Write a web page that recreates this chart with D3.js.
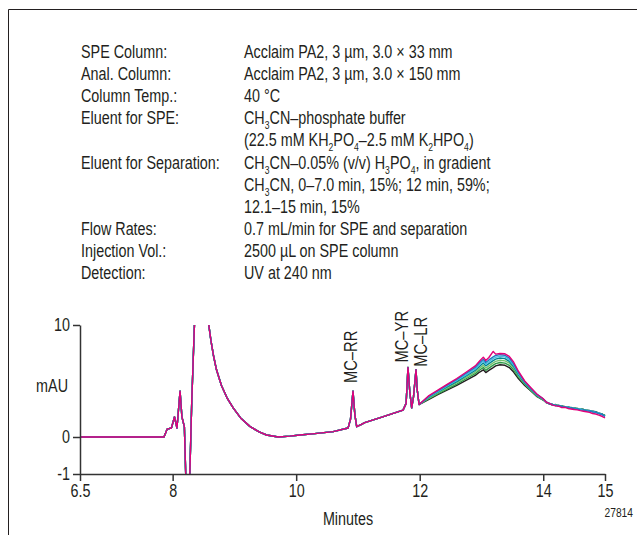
<!DOCTYPE html>
<html>
<head>
<meta charset="utf-8">
<script src="https://cdn.jsdelivr.net/npm/d3@7"></script>
<style>
  html, body { margin: 0; padding: 0; background: #fff; }
  svg { display: block; }
  text { font-family: "Liberation Sans", Arial, sans-serif; fill: #231f20; }
</style>
</head>
<body>
<svg id="chart" width="637" height="535"></svg>
<script>
// ---------------- DATA ----------------
// Conditions block
const condLabels = ["SPE Column:", "Anal. Column:", "Column Temp.:", "Eluent for SPE:", "",
  "Eluent for Separation:", "", "", "Flow Rates:", "Injection Vol.:", "Detection:"];
const condValues = [
  "Acclaim PA2, 3 µm, 3.0 × 33 mm",
  "Acclaim PA2, 3 µm, 3.0 × 150 mm",
  "40 °C",
  "CH{3}CN–phosphate buffer",
  "(22.5 mM KH{2}PO{4}–2.5 mM K{2}HPO{4})",
  "CH{3}CN–0.05% (v/v) H{3}PO{4}, in gradient",
  "CH{3}CN, 0–7.0 min, 15%; 12 min, 59%;",
  "12.1–15 min, 15%",
  "0.7 mL/min for SPE and separation",
  "2500 µL on SPE column",
  "UV at 240 nm"
];

// Axis ticks
const xTicks = [6.5, 8, 10, 12, 14, 15];
const yTicks = [-1, 0, 10];

// Peak labels
const peakNames = ["MC–RR", "MC–YR", "MC–LR"];
const peakTimes = [10.92, 11.81, 11.94];
const peakHeights = [4.1, 6.2, 6.0];

// Common part of all traces (6.5 – 12.0 min), mAU
const earlyT = [6.50, 7.86, 7.91, 7.98, 8.03, 8.07, 8.12, 8.15, 8.19, 8.22, 8.24, 8.27, 8.31, 8.35,
  8.40, 8.45, 8.55, 8.58, 8.62, 8.66, 8.71, 8.79, 8.88, 8.98, 9.10, 9.25, 9.40, 9.52, 9.71, 9.90,
  10.06, 10.30, 10.60, 10.84, 10.88, 10.92, 10.95, 10.98, 11.05, 11.11, 11.40, 11.73, 11.78, 11.81,
  11.84, 11.87, 11.90, 11.94, 11.96];
const earlyV = [0.0, 0.0, 0.7, 0.8, 1.8, 0.8, 4.1, 1.8, 0.9, -1.5, -3.0, -1.5, 3.3, 9.6,
  16, 22, 16, 10.2, 8.6, 7.3, 6.0, 4.6, 3.5, 2.6, 1.7, 0.95, 0.45, 0.18, 0.0, 0.08,
  0.18, 0.3, 0.48, 0.8, 1.6, 4.1, 2.0, 0.92, 1.1, 1.28, 1.8, 2.4, 3.0, 6.2,
  4.0, 2.6, 3.6, 6.0, 4.2];

// Late part (12.0 – 15.0 min), one array per trace
const lateT = [11.99, 12.15, 12.3, 12.45, 12.6, 12.75, 12.9, 12.97, 13.03, 13.07, 13.12, 13.19, 13.23, 13.3,
  13.38, 13.45, 13.52, 13.6, 13.7, 13.8, 13.9, 14.0, 14.05, 14.1, 14.15, 14.2, 14.25, 14.3, 14.35,
  14.4, 14.45, 14.5, 14.55, 14.6, 14.65, 14.7, 14.75, 14.8, 14.85, 14.9, 14.95, 15.0];
const lateBlack = [2.9, 3.35, 3.8, 4.2, 4.6, 5.05, 5.5, 5.8, 6.0, 5.75, 5.95, 6.2, 6.35, 6.45,
  6.4, 6.2, 5.8, 5.2, 4.6, 4.1, 3.6, 3.3, 3.05, 2.95, 2.85, 2.9, 2.75, 2.8, 2.65,
  2.7, 2.6, 2.6, 2.5, 2.5, 2.45, 2.4, 2.35, 2.3, 2.25, 2.15, 2.05, 1.9];
const lateGreen = [2.9, 3.42, 3.88, 4.3, 4.72, 5.2, 5.65, 5.98, 6.2, 5.95, 6.15, 6.42, 6.55, 6.65,
  6.6, 6.4, 6.0, 5.35, 4.7, 4.15, 3.65, 3.3, 3.1, 2.95, 2.9, 2.85, 2.8, 2.75, 2.7,
  2.65, 2.6, 2.6, 2.55, 2.5, 2.45, 2.4, 2.35, 2.3, 2.2, 2.15, 2.05, 1.95];
const lateLightGreen = [2.9, 3.48, 3.95, 4.4, 4.85, 5.33, 5.8, 6.15, 6.4, 6.15, 6.35, 6.62, 6.75, 6.85,
  6.8, 6.6, 6.15, 5.45, 4.75, 4.2, 3.68, 3.32, 3.08, 3.0, 2.88, 2.82, 2.82, 2.72, 2.7,
  2.62, 2.62, 2.55, 2.52, 2.48, 2.42, 2.38, 2.35, 2.28, 2.22, 2.12, 2.02, 1.92];
const lateTeal = [2.9, 3.55, 4.02, 4.5, 4.95, 5.45, 5.95, 6.32, 6.6, 6.35, 6.55, 6.82, 6.95, 7.05,
  7.0, 6.75, 6.3, 5.55, 4.82, 4.25, 3.72, 3.35, 3.12, 2.98, 2.9, 2.8, 2.85, 2.7, 2.72,
  2.6, 2.65, 2.52, 2.55, 2.45, 2.45, 2.35, 2.38, 2.25, 2.25, 2.1, 2.05, 1.88];
const lateCyan = [2.9, 3.6, 4.08, 4.58, 5.05, 5.55, 6.08, 6.48, 6.78, 6.5, 6.72, 7.0, 7.12, 7.2,
  7.15, 6.9, 6.42, 5.65, 4.9, 4.3, 3.75, 3.38, 3.08, 3.02, 2.85, 2.85, 2.78, 2.75, 2.65,
  2.68, 2.55, 2.58, 2.48, 2.5, 2.38, 2.4, 2.3, 2.3, 2.18, 2.15, 2.0, 1.85];
const lateBlue = [2.9, 3.65, 4.14, 4.66, 5.15, 5.68, 6.22, 6.62, 6.95, 6.65, 6.88, 7.15, 7.28, 7.35,
  7.3, 7.05, 6.55, 5.75, 4.95, 4.35, 3.8, 3.4, 3.15, 2.95, 2.92, 2.8, 2.8, 2.72, 2.68,
  2.62, 2.6, 2.52, 2.5, 2.42, 2.4, 2.35, 2.32, 2.25, 2.2, 2.1, 2.02, 1.85];
const lateMagenta = [2.9, 3.7, 4.2, 4.72, 5.22, 5.78, 6.35, 6.78, 7.13, 6.83, 7.1, 7.64, 7.4, 7.45,
  7.43, 7.2, 6.7, 5.85, 5.0, 4.4, 3.82, 3.42, 3.1, 3.0, 2.85, 2.78, 2.75, 2.62, 2.65,
  2.55, 2.5, 2.45, 2.42, 2.35, 2.3, 2.25, 2.2, 2.1, 2.05, 1.95, 1.85, 1.7];

const seriesNames = ["black", "green", "lightgreen", "teal", "cyan", "blue", "magenta"];
const seriesLate = [lateBlack, lateGreen, lateLightGreen, lateTeal, lateCyan, lateBlue, lateMagenta];
const seriesColors = ["#231f20", "#2f9a48", "#74c26f", "#00858c", "#45bde6", "#2478bd", "#e2007a"];

// ---------------- CHART ----------------
const svg = d3.select("#chart");
const FONT = 17.5;
const NARROW = 0.82;   // horizontal condensing of the sans face

// condensed text helper: text placed at (x,y), squeezed horizontally
function ntext(parent, xx, yy, size, anchor, rot) {
  return parent.append("text")
    .attr("transform", `translate(${xx},${yy})${rot ? " rotate(" + rot + ")" : ""} scale(${NARROW},1)`)
    .attr("font-size", size).attr("text-anchor", anchor || "start");
}

// frame (left and top edges visible in the crop)
svg.append("path").attr("d", "M8.5,535 V9.5 H637")
  .attr("fill", "none").attr("stroke", "#231f20").attr("stroke-width", 1);

// conditions text
const cond = svg.append("g");
function addRich(sel, str) {
  const parts = str.split(/(\{[^}]*\})/).filter(p => p);
  let lowered = false;
  parts.forEach(p => {
    if (p[0] === "{") {
      sel.append("tspan").attr("font-size", 10.5).attr("dy", lowered ? 0 : 5).text(p.slice(1, -1));
      lowered = true;
    } else {
      const ts = sel.append("tspan").text(p);
      if (lowered) { ts.attr("dy", -5); lowered = false; }
    }
  });
}
condLabels.forEach((l, i) => {
  const yy = 58 + i * 22.1;
  if (l) ntext(cond, 81, yy, FONT).text(l);
  addRich(ntext(cond, 244, yy, FONT), condValues[i]);
});

const x = d3.scaleLinear().domain([6.5, 15]).range([80, 605]);
const y = d3.scaleLinear().domain([-1, 0, 10]).range([474, 437, 325]);

svg.append("defs").append("clipPath").attr("id", "plotclip")
  .append("rect").attr("x", 80).attr("y", 325).attr("width", 526).attr("height", 149);

const line = d3.line().x(d => x(d[0])).y(d => y(d[1]));

const plot = svg.append("g").attr("clip-path", "url(#plotclip)");
seriesLate.forEach((late, i) => {
  const pts = earlyT.map((t, j) => [t, earlyV[j]]).concat(lateT.map((t, j) => [t, late[j]]));
  plot.append("path").datum(pts)
    .attr("fill", "none").attr("stroke", seriesColors[i]).attr("stroke-width", 1.4)
    .attr("stroke-linejoin", "round")
    .attr("d", line);
});

// axes
const xAxis = d3.axisBottom(x).tickValues(xTicks).tickFormat(d => d).tickSize(7).tickPadding(4).tickSizeOuter(0);
const gx = svg.append("g").attr("transform", "translate(0,474)").call(xAxis);
const yAxis = d3.axisLeft(y).tickValues(yTicks).tickFormat(d => d === -1 ? "-1" : d).tickSize(7).tickPadding(3).tickSizeOuter(0);
const gy = svg.append("g").attr("transform", "translate(80,0)").call(yAxis);
[gx, gy].forEach(g => {
  g.selectAll("path, line").attr("stroke", "#333").attr("stroke-width", 1.5);
  g.selectAll("text").attr("font-size", FONT).attr("fill", "#231f20")
    .style("font-family", "'Liberation Sans', Arial, sans-serif");
});
gx.selectAll(".tick text").attr("transform", `scale(${NARROW},1)`);
gy.selectAll(".tick text").attr("x", -10 / NARROW).attr("transform", `scale(${NARROW},1)`);

ntext(svg, 68, 392, FONT, "end").text("mAU");
ntext(svg, 348, 525, FONT, "middle").text("Minutes");
ntext(svg, 633, 517, 12.5, "end").text("27814");

// peak labels
const peakDx = [4, 0, 11];
const peakDy = [-8, -5, -3];
peakNames.forEach((n, i) => {
  const px = x(peakTimes[i]) + peakDx[i];
  const py = y(peakHeights[i]) + peakDy[i];
  ntext(svg, px, py, 18, "start", -90).text(n);
});
</script>
</body>
</html>
